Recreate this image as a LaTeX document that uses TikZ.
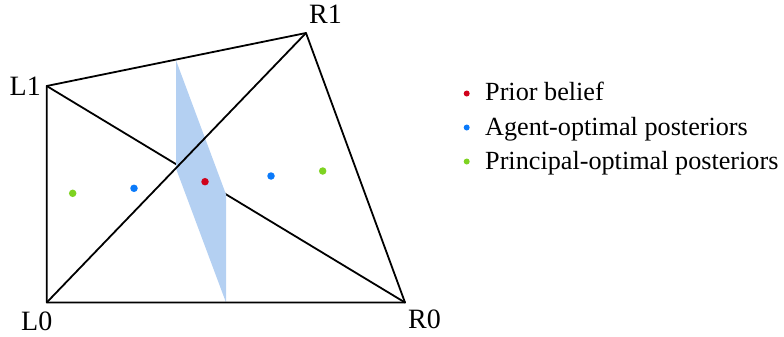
\documentclass[tikz,border=0pt]{standalone}
\usepackage{fontspec}
\setmainfont{Liberation Serif}
\definecolor{priorred}{RGB}{208,2,27}
\definecolor{agentblue}{RGB}{10,122,250}
\definecolor{princgreen}{RGB}{126,211,33}
\definecolor{shadeblue}{RGB}{180,208,242}
\begin{document}
\begin{tikzpicture}[x=1pt,y=-1pt,
  edge/.style={line width=1.8pt,black,line cap=round,line join=round},
  vlabel/.style={inner sep=0pt,font=\fontsize{28}{30}\selectfont},
  ltext/.style={inner sep=0pt,anchor=base west,font=\fontsize{26.2}{28}\selectfont},
  bigdot/.style={circle,inner sep=0pt,minimum size=7.5pt},
  smalldot/.style={circle,inner sep=0pt,minimum size=6pt}]
\useasboundingbox (0,0) rectangle (784,337);
\coordinate (L1) at (46.7,86);
\coordinate (R1) at (306,33);
\coordinate (R0) at (405,302.5);
\coordinate (L0) at (46.7,302.5);
\draw[edge] (L1) -- (R0);
\coordinate (S1) at (176,60.3);
\coordinate (S2) at (226,194.4);
\coordinate (S3) at (226,302.5);
\coordinate (S4) at (176,168.5);
\fill[shadeblue] (S1) -- (S2) -- (S3) -- (S4) -- cycle;
\draw[edge] (L1) -- (R1) -- (R0) -- (L0) -- cycle;
\draw[edge] (L0) -- (R1);
\node[vlabel,anchor=base east] (lL1) at (41,95) {L1};
\node[vlabel,anchor=base west] (lL0) at (21,330) {L0};
\node[vlabel,anchor=base west] (lR0) at (408,328) {R0};
\node[vlabel,anchor=base west] (lR1) at (309,24) {R1};
\node[bigdot,fill=princgreen] (g1) at (72.7,193.3) {};
\node[bigdot,fill=agentblue] (b1) at (134,188.3) {};
\node[bigdot,fill=priorred] (p) at (205,181.7) {};
\node[bigdot,fill=agentblue] (b2) at (271,176) {};
\node[bigdot,fill=princgreen] (g2) at (322.7,171) {};
\node[smalldot,fill=priorred] (k1) at (466.7,93.5) {};
\node[smalldot,fill=agentblue] (k2) at (466.7,127.5) {};
\node[smalldot,fill=princgreen] (k3) at (466.7,161.5) {};
\node[ltext] (t1) at (485,100.7) {Prior belief};
\node[ltext] (t2) at (485,135) {Agent-optimal posteriors};
\node[ltext] (t3) at (485,169) {Principal-optimal posteriors};
\end{tikzpicture}
\end{document}
